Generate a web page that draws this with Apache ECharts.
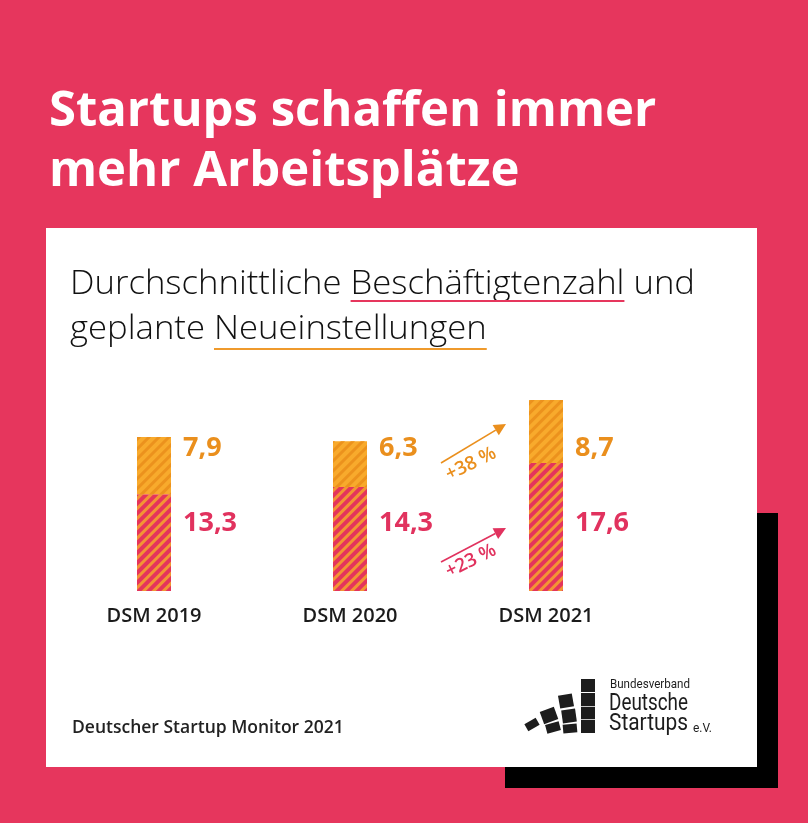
<!DOCTYPE html>
<html>
<head>
<meta charset="utf-8">
<title>Startups schaffen immer mehr Arbeitsplätze</title>
<script src="https://cdn.jsdelivr.net/npm/echarts@6/dist/echarts.min.js"></script>
<style>
html, body { margin: 0; padding: 0; background: #e6365d; }
#chart { width: 808px; height: 823px; }
</style>
</head>
<body>
<div id="chart"></div>
<script>
// Werte aus dem Deutschen Startup Monitor
var years = ['DSM 2019', 'DSM 2020', 'DSM 2021'];
var employees = [13.3, 14.3, 17.6];  // durchschnittliche Beschäftigtenzahl
var newHires = [7.9, 6.3, 8.7];      // geplante Neueinstellungen
var growthEmployees = '+23 %';
var growthHires = '+38 %';

var PINK = '#e6365d', ORANGE = '#ea8f1d', RED = '#e1325e', INK = '#1b1b1b';

var canvas = document.createElement('canvas');
var ctx = canvas.getContext('2d');
function textWidth(font, s) {
    ctx.font = font;
    return ctx.measureText(s).width;
}
function fmt(v) {
    return v.toFixed(1).replace('.', ',');
}

var chart = echarts.init(document.getElementById('chart'));

// Untertitel: schmale Schrift, auf Zielbreite gestaucht
var subFont = '300 33px "Open Sans"';
var subScale = 625 / textWidth(subFont, 'Durchschnittliche Beschäftigtenzahl und');
var u1x = 70 + subScale * textWidth(subFont, 'Durchschnittliche ');
var u1w = subScale * textWidth(subFont, 'Beschäftigtenzahl');
var u2x = 70 + subScale * textWidth(subFont, 'geplante ');
var u2w = subScale * textWidth(subFont, 'Neueinstellungen');

function subText(txt, y) {
    return {
        type: 'text', x: 70, y: y, scaleX: subScale, z: 1,
        style: { text: txt, fill: '#111', font: subFont, verticalAlign: 'middle' }
    };
}

function arrow(x1, y1, x2, y2, color) {
    var a = Math.atan2(y2 - y1, x2 - x1);
    var len = 12, hw = 6;
    var bx = x2 - len * Math.cos(a), by = y2 - len * Math.sin(a);
    return [{
        type: 'line', z: 1,
        shape: { x1: x1, y1: y1, x2: bx, y2: by },
        style: { stroke: color, lineWidth: 1.6 }
    }, {
        type: 'polygon', z: 1,
        shape: { points: [[x2, y2],
            [bx + hw * Math.sin(a), by - hw * Math.cos(a)],
            [bx - hw * Math.sin(a), by + hw * Math.cos(a)]] },
        style: { fill: color }
    }];
}

function block(cx, cy, w, h, deg) {
    return {
        type: 'rect', x: cx, y: cy, rotation: deg * Math.PI / 180, z: 1,
        shape: { x: -w / 2, y: -h / 2, width: w, height: h },
        style: { fill: '#1d1d1d' }
    };
}

// Logo-Schrift schmal, auf Breite gebracht
function logoText(txt, x, y, size, w) {
    var font = '400 ' + size + 'px Roboto';
    return {
        type: 'text', x: x, y: y, scaleX: w / textWidth(font, txt), z: 1,
        style: { text: txt, fill: '#1d1d1d', font: font, verticalAlign: 'middle' }
    };
}

var graphics = [
    { type: 'rect', z: 0, shape: { x: 505, y: 513, width: 273, height: 275 }, style: { fill: '#000' } },
    { type: 'rect', z: 0, shape: { x: 46, y: 228, width: 711, height: 539 }, style: { fill: '#fff' } },
    { type: 'text', x: 49, y: 112, z: 1, style: { text: 'Startups schaffen immer', fill: '#fff', font: '700 49px "Open Sans"', verticalAlign: 'middle' } },
    { type: 'text', x: 49, y: 172, z: 1, style: { text: 'mehr Arbeitsplätze', fill: '#fff', font: '700 49px "Open Sans"', verticalAlign: 'middle' } },
    subText('Durchschnittliche Beschäftigtenzahl und', 285),
    subText('geplante Neueinstellungen', 330),
    { type: 'rect', z: 1, shape: { x: u1x, y: 300, width: u1w, height: 2 }, style: { fill: PINK } },
    { type: 'rect', z: 1, shape: { x: u2x, y: 348, width: u2w, height: 2 }, style: { fill: '#ef9a2c' } },
    { type: 'text', x: 471, y: 464, rotation: 0.46, z: 1,
      style: { text: growthHires, fill: ORANGE, font: '600 19px "Open Sans"', align: 'center', verticalAlign: 'middle' } },
    { type: 'text', x: 471, y: 561, rotation: 0.46, z: 1,
      style: { text: growthEmployees, fill: RED, font: '600 19px "Open Sans"', align: 'center', verticalAlign: 'middle' } },
    { type: 'text', x: 72, y: 728, z: 1, style: { text: 'Deutscher Startup Monitor 2021', fill: '#222', font: '600 17.5px "Open Sans"', verticalAlign: 'middle' } },
    // Logo Bundesverband Deutsche Startups
    block(588, 685.5, 14, 13, 0), block(588, 699.5, 14, 13, 0),
    block(588, 713, 14, 12.5, 0), block(588, 726.5, 14, 13, 0),
    block(566, 701, 14, 13, 10), block(569, 716, 14, 13, 8), block(570, 728.5, 14, 9, 5),
    block(549, 715.5, 15, 13, 20), block(553, 727.5, 14, 9, 15),
    block(532, 724.5, 13, 8, 30),
    logoText('Bundesverband', 610, 685, 13, 80),
    logoText('Deutsche', 609, 704, 24, 79),
    logoText('Startups', 609, 724, 24, 79),
    logoText('e.V.', 693, 729, 12, 19)
].concat(arrow(441, 463, 506, 424, ORANGE), arrow(441, 562, 506, 528, RED));

function barLabel(color) {
    return {
        show: true, position: 'right', distance: 12,
        color: color, fontFamily: 'Open Sans', fontWeight: 700, fontSize: 27,
        formatter: function (p) { return fmt(p.value); }
    };
}

function stripes(color) {
    return { symbol: 'rect', symbolSize: 1, color: color,
        dashArrayX: [1, 0], dashArrayY: [3, 3.5], rotation: -Math.PI / 4 };
}

var option = {
    backgroundColor: PINK,
    animation: false,
    graphic: { elements: graphics },
    grid: { left: 56, top: 373, width: 588, height: 218 },
    xAxis: {
        type: 'category', data: years,
        axisLine: { show: false }, axisTick: { show: false },
        axisLabel: { color: INK, fontFamily: 'Open Sans', fontWeight: 600, fontSize: 20, margin: 15 }
    },
    yAxis: { type: 'value', min: 0, max: 30, show: false },
    series: [{
        name: 'Beschäftigte', type: 'bar', stack: 'all', barWidth: 34,
        data: employees,
        itemStyle: { color: '#e4345c', decal: stripes('#f39434') },
        label: barLabel(RED)
    }, {
        name: 'Neueinstellungen', type: 'bar', stack: 'all', barWidth: 34,
        data: newHires,
        itemStyle: { color: '#f8aa2c', decal: stripes('#ec921d') },
        label: barLabel(ORANGE)
    }]
};
chart.setOption(option);

// Zahlen stehen in zwei festen Zeilen neben den Balken
function rowData(vals, bases, rowY) {
    return vals.map(function (v, i) {
        var mid = chart.convertToPixel({ gridIndex: 0 }, [i, bases[i] + v / 2])[1];
        return { value: v, label: { offset: [0, rowY - mid] } };
    });
}
chart.setOption({
    series: [
        { data: rowData(employees, [0, 0, 0], 523) },
        { data: rowData(newHires, employees, 448) }
    ]
});
</script>
</body>
</html>
